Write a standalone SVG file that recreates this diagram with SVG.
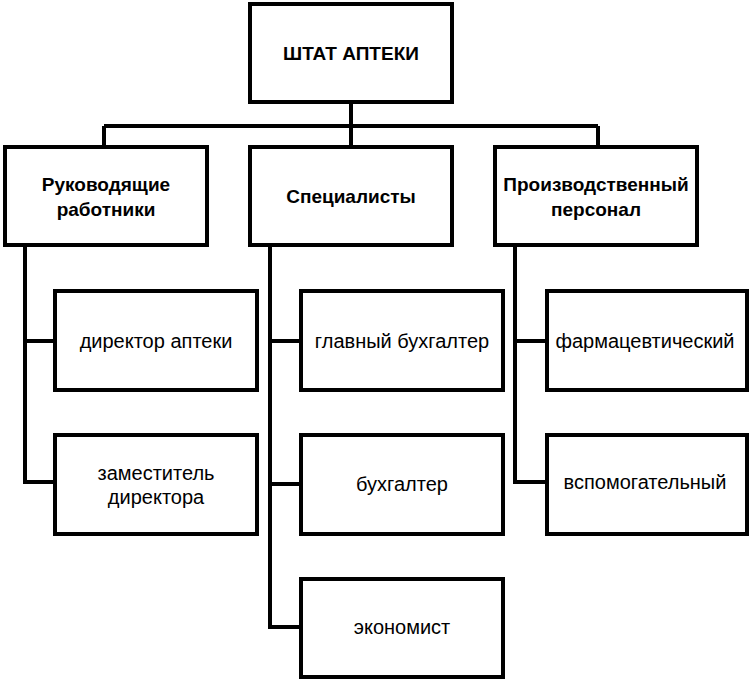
<svg xmlns="http://www.w3.org/2000/svg" width="752" height="680" viewBox="0 0 752 680">
<style>
.box{fill:#fff;stroke:#000;stroke-width:4}
.con{fill:none;stroke:#000;stroke-width:4}
.t{font-family:"Liberation Sans",Arial,sans-serif;font-size:20px;fill:#000;text-anchor:middle;dominant-baseline:central}
.b{font-weight:bold;font-size:19px}
</style>
<rect width="752" height="680" fill="#fff"/>
<g id="connectors">
<path class="con" d="M351 103V147M104 126H598M104 126V147M598 126V147"/>
<path class="con" d="M25 247V482H55M25 341H55"/>
<path class="con" d="M270 247V627H301M270 341H301M270 484H301"/>
<path class="con" d="M515 247V482H547M515 341H547"/>
</g>
<g id="n-root"><rect class="box" x="250" y="4" width="202" height="98"/><text class="t b" x="351" y="53">ШТАТ АПТЕКИ</text></g>
<g id="n-ruk"><rect class="box" x="5" y="147" width="202" height="98"/><text class="t b" x="106" y="184">Руководящие</text><text class="t b" x="106" y="209">работники</text></g>
<g id="n-spec"><rect class="box" x="250" y="147" width="202" height="98"/><text class="t b" x="351" y="196">Специалисты</text></g>
<g id="n-proizv"><rect class="box" x="495" y="147" width="202" height="98"/><text class="t b" x="596" y="184">Производственный</text><text class="t b" x="596" y="209">персонал</text></g>
<g id="n-dir"><rect class="box" x="55" y="291" width="202" height="99"/><text class="t" x="156" y="341">директор аптеки</text></g>
<g id="n-zam"><rect class="box" x="55" y="435" width="202" height="99"/><text class="t" x="156" y="473">заместитель</text><text class="t" x="156" y="497">директора</text></g>
<g id="n-glbuh"><rect class="box" x="301" y="291" width="202" height="99"/><text class="t" x="402" y="341">главный бухгалтер</text></g>
<g id="n-buh"><rect class="box" x="301" y="435" width="202" height="99"/><text class="t" x="402" y="484">бухгалтер</text></g>
<g id="n-econ"><rect class="box" x="301" y="579" width="202" height="98"/><text class="t" x="402" y="627">экономист</text></g>
<g id="n-farm"><rect class="box" x="547" y="291" width="200" height="99"/><text class="t" x="645" y="341">фармацевтический</text></g>
<g id="n-vsp"><rect class="box" x="547" y="435" width="200" height="99"/><text class="t" x="645" y="482">вспомогательный</text></g>
</svg>
